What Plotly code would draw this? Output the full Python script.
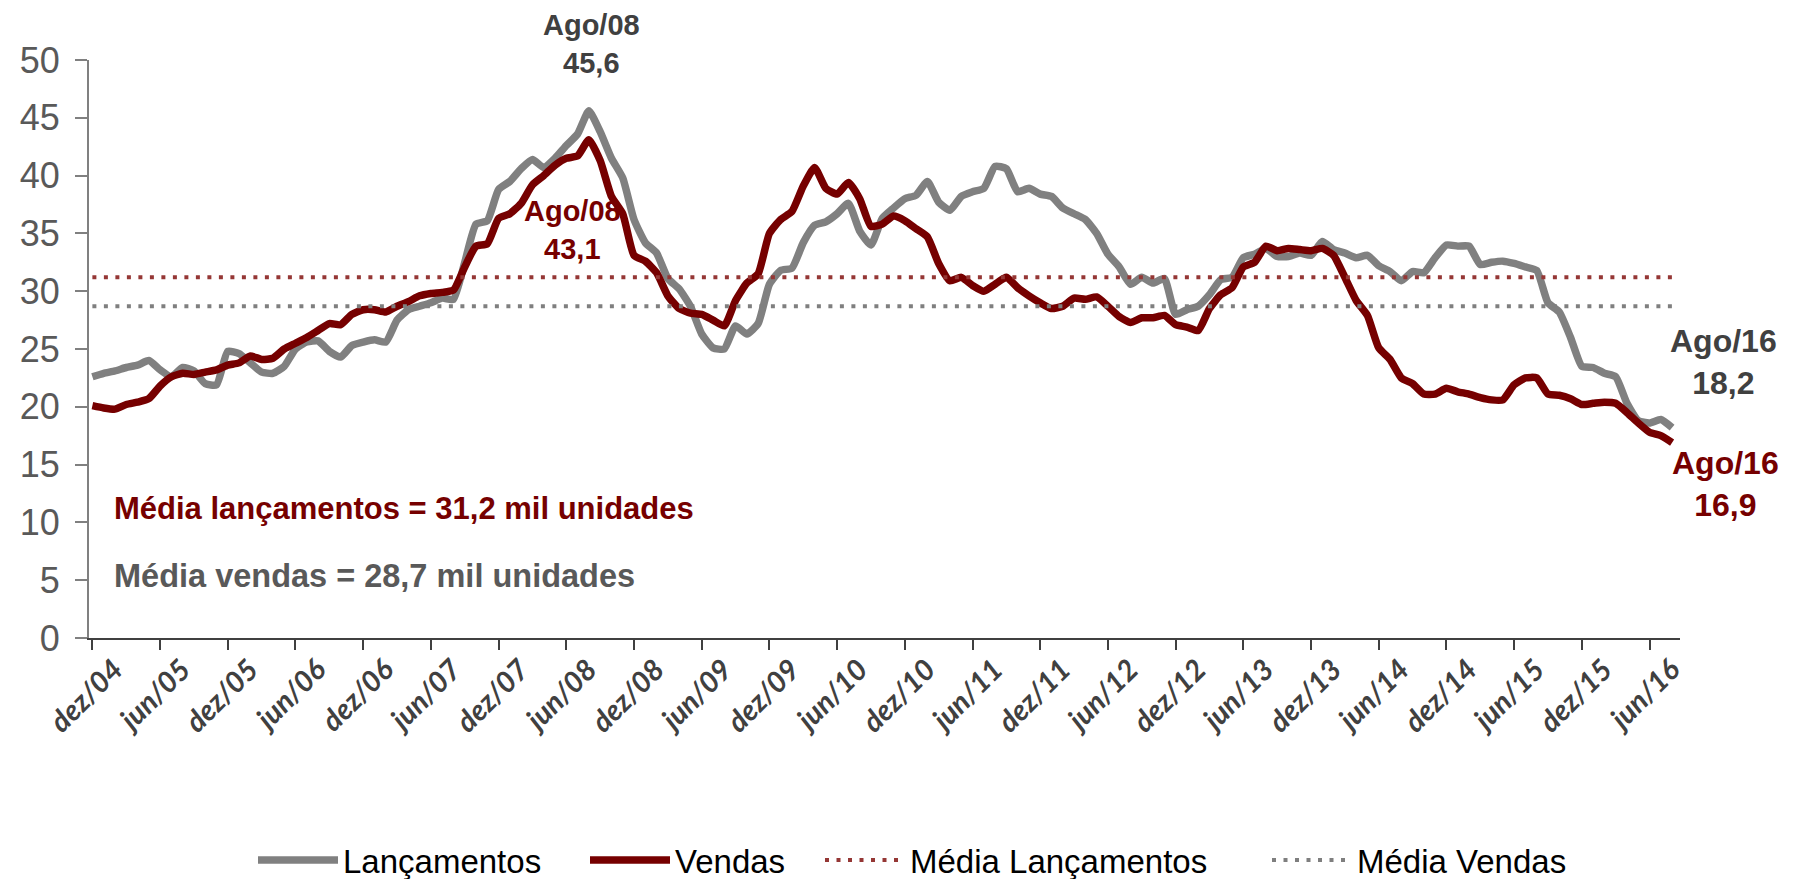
import plotly.graph_objects as go

# ---------------- data ----------------
mes_abrev = ["jan", "fev", "mar", "abr", "mai", "jun", "jul", "ago", "set", "out", "nov", "dez"]
months = ["dez/04"] + [f"{m}/{y:02d}" for y in range(5, 17) for m in mes_abrev]
months = months[:141]  # dez/04 ... ago/16

lancamentos = [
    22.6, 22.9, 23.1, 23.4, 23.6, 24.0, 23.2, 22.6, 23.4, 23.1, 22.0, 21.9,
    24.8, 24.6, 23.8, 23.0, 22.9, 23.5, 25.0, 25.6, 25.7, 24.8, 24.3, 25.3,
    25.6, 25.8, 25.6, 27.5, 28.4, 28.7, 29.0, 29.4, 29.3, 32.5, 35.8, 36.1,
    38.8, 39.5, 40.6, 41.4, 40.7, 41.5, 42.6, 43.6, 45.6, 43.8, 41.5, 39.8,
    36.2, 34.2, 33.3, 31.1, 30.2, 28.7, 26.3, 25.1, 25.0, 27.0, 26.3, 27.2,
    30.6, 31.8, 32.0, 34.2, 35.7, 36.0, 36.7, 37.6, 35.2, 34.0, 36.3, 37.2,
    38.0, 38.3, 39.5, 37.7, 37.0, 38.2, 38.6, 38.9, 40.8, 40.6, 38.6, 38.9,
    38.4, 38.2, 37.2, 36.7, 36.2, 35.0, 33.2, 32.1, 30.6, 31.2, 30.7, 31.1,
    28.0, 28.4, 28.7, 29.7, 31.0, 31.2, 32.9, 33.2, 33.7, 33.0, 33.0, 33.3,
    33.1, 34.3, 33.6, 33.3, 32.9, 33.1, 32.2, 31.7, 30.9, 31.7, 31.6, 32.9,
    34.0, 33.9, 33.9, 32.3, 32.5, 32.6, 32.4, 32.1, 31.8, 29.0, 28.2, 26.0,
    23.5, 23.4, 22.9, 22.6, 20.3, 18.8, 18.6, 18.9, 18.2,
]

vendas = [
    20.1, 19.9, 19.8, 20.2, 20.4, 20.7, 21.8, 22.6, 22.9, 22.8, 23.0, 23.2,
    23.6, 23.8, 24.4, 24.1, 24.2, 25.0, 25.5, 26.0, 26.6, 27.2, 27.1, 28.0,
    28.4, 28.4, 28.2, 28.7, 29.1, 29.6, 29.8, 29.9, 30.1, 32.1, 33.9, 34.1,
    36.3, 36.7, 37.6, 39.2, 40.0, 40.9, 41.5, 41.7, 43.1, 41.3, 38.2, 36.7,
    33.1, 32.6, 31.6, 29.6, 28.5, 28.1, 28.0, 27.5, 27.0, 29.2, 30.7, 31.5,
    35.0, 36.2, 36.9, 39.1, 40.7, 38.9, 38.4, 39.4, 38.0, 35.6, 35.8, 36.5,
    36.1, 35.4, 34.7, 32.4, 30.9, 31.2, 30.5, 30.0, 30.6, 31.2, 30.3, 29.6,
    29.0, 28.5, 28.7, 29.4, 29.3, 29.5, 28.7, 27.8, 27.3, 27.7, 27.7, 27.9,
    27.1, 26.9, 26.6, 28.5, 29.7, 30.3, 32.1, 32.5, 33.9, 33.5, 33.7, 33.6,
    33.5, 33.7, 33.1, 31.2, 29.2, 27.9, 25.1, 24.1, 22.5, 22.0, 21.1, 21.1,
    21.6, 21.3, 21.1, 20.8, 20.6, 20.6, 21.9, 22.5, 22.5, 21.1, 21.0, 20.7,
    20.2, 20.3, 20.4, 20.3, 19.5, 18.6, 17.8, 17.5, 16.9,
]

media_lancamentos = 31.2
media_vendas = 28.7

tick_labels = ["dez/04", "jun/05", "dez/05", "jun/06", "dez/06", "jun/07", "dez/07",
               "jun/08", "dez/08", "jun/09", "dez/09", "jun/10", "dez/10", "jun/11",
               "dez/11", "jun/12", "dez/12", "jun/13", "dez/13", "jun/14", "dez/14",
               "jun/15", "dez/15", "jun/16"]
y_ticks = [0, 5, 10, 15, 20, 25, 30, 35, 40, 45, 50]

# ---------------- styling ----------------
GRAY = "#808080"
RED = "#760000"
RED_DOT = "#953735"
GRAY_DOT = "#7F7F7F"
DARK = "#404040"
MID = "#595959"
FONT = "Liberation Sans, Arial, sans-serif"
LEG_FONT = "Liberation Sans Narrow, Arial Narrow, Liberation Sans, sans-serif"

x = list(range(len(months)))
tick_pos = [months.index(t) for t in tick_labels]
xr = [-0.3, len(months) - 0.3]


def fmt(v):
    return f"{v:.1f}".replace(".", ",")


fig = go.Figure()
fig.add_trace(go.Scatter(x=x, y=lancamentos, name="Lançamentos", mode="lines", legend="legend",
                         text=months, line=dict(color=GRAY, width=7.5, shape="spline", smoothing=0.5)))
fig.add_trace(go.Scatter(x=x, y=vendas, name="Vendas", mode="lines", legend="legend2",
                         text=months, line=dict(color=RED, width=7.5, shape="spline", smoothing=0.5)))
fig.add_trace(go.Scatter(x=x, y=[media_lancamentos] * len(x), name="Média Lançamentos", mode="lines",
                         legend="legend3", line=dict(color=RED_DOT, width=4, dash="4px,7.5px")))
fig.add_trace(go.Scatter(x=x, y=[media_vendas] * len(x), name="Média Vendas", mode="lines",
                         legend="legend4", line=dict(color=GRAY_DOT, width=4, dash="4px,7.5px")))

i_pk = lancamentos.index(max(lancamentos))
i_pkv = vendas.index(max(vendas))
i_end = len(months) - 1


def lab(i):
    m = months[i]
    return m[0].upper() + m[1:]


annots = [
    dict(x=i_pk, y=lancamentos[i_pk], text=f"{lab(i_pk)}<br>{fmt(lancamentos[i_pk])}",
         font=dict(family=FONT, size=29, color=DARK, weight="bold"),
         yanchor="bottom", xanchor="center", xshift=3, yshift=30),
    dict(x=i_pkv, y=vendas[i_pkv], text=f"{lab(i_pkv)}<br>{fmt(vendas[i_pkv])}",
         font=dict(family=FONT, size=29, color=RED, weight="bold"),
         yanchor="top", xanchor="center", xshift=-16, yshift=-53),
    dict(x=i_end, y=lancamentos[i_end], text=f"{lab(i_end)}<br>{fmt(lancamentos[i_end])}",
         font=dict(family=FONT, size=32, color=DARK, weight="bold"),
         yanchor="middle", xanchor="center", xshift=51, yshift=66),
    dict(x=i_end, y=vendas[i_end], text=f"{lab(i_end)}<br>{fmt(vendas[i_end])}",
         font=dict(family=FONT, size=32, color=RED, weight="bold"),
         yanchor="middle", xanchor="center", xshift=53, yshift=-41),
    dict(x=2, y=11.2, text=f"Média lançamentos = {fmt(media_lancamentos)} mil unidades",
         font=dict(family=FONT, size=31, color=RED, weight="bold"),
         yanchor="middle", xanchor="left", xshift=-3),
    dict(x=2, y=5.4, text=f"Média vendas = {fmt(media_vendas)} mil unidades",
         font=dict(family=FONT, size=32.5, color=MID, weight="bold"),
         yanchor="middle", xanchor="left", xshift=-3),
]
for a in annots:
    a.update(xref="x", yref="y", showarrow=False)

PLOT_L, PLOT_W = 89, 1591


def leg(px_left):
    return dict(orientation="h", x=(px_left - PLOT_L) / PLOT_W, xanchor="left",
                y=-0.384, yanchor="middle", itemwidth=80,
                font=dict(family=LEG_FONT, size=33, color="black"),
                bgcolor="rgba(0,0,0,0)", borderwidth=0)


fig.update_layout(
    width=1797, height=879,
    margin=dict(l=PLOT_L, r=1797 - PLOT_L - PLOT_W, t=60, b=241, autoexpand=False),
    paper_bgcolor="white", plot_bgcolor="white",
    showlegend=True,
    legend=leg(253), legend2=leg(585), legend3=leg(820), legend4=leg(1267),
    annotations=annots,
    xaxis=dict(range=xr, tickmode="array", tickvals=tick_pos, ticktext=tick_labels,
               tickangle=-45, ticks="outside", ticklen=10, tickwidth=2, tickcolor=DARK,
               ticklabelshift=22, ticklabelstandoff=-9,
               showline=True, linecolor=DARK, linewidth=2, showgrid=False, zeroline=False,
               tickfont=dict(family="Lato, Open Sans, sans-serif", size=29, color=DARK,
                             weight="bold", style="italic")),
    xaxis2=dict(range=xr, overlaying="x", anchor="y", side="bottom", tickmode="array",
                tickvals=tick_pos, ticks="inside", ticklen=10, tickwidth=2, tickcolor=DARK,
                showticklabels=False, showline=False, showgrid=False, zeroline=False),
    yaxis=dict(range=[0, 50], tickmode="array", tickvals=y_ticks, ticks="outside",
               ticklen=12, tickwidth=2, tickcolor=GRAY, showline=True, linecolor=GRAY,
               linewidth=2, showgrid=False, zeroline=False, ticklabelstandoff=8,
               tickfont=dict(family=FONT, size=36, color=MID)),
    yaxis2=dict(range=[0, 50], overlaying="y", anchor="x", side="left", tickmode="array",
                tickvals=y_ticks, ticks="inside", ticklen=12, tickwidth=2, tickcolor=GRAY,
                showticklabels=False, showline=False, showgrid=False, zeroline=False),
)

fig.write_html("out.html", config={"displayModeBar": False},
               post_script="document.body.style.margin='0';document.body.style.overflow='hidden';")
